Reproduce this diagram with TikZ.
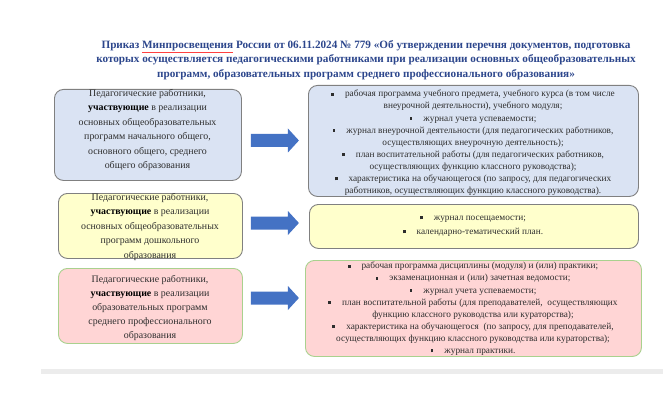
\documentclass[tikz,border=0pt]{standalone}
\usepackage{fontspec}
\setmainfont{Liberation Serif}
\definecolor{titleblue}{RGB}{44,70,140}
\definecolor{bluefill}{RGB}{218,227,243}
\definecolor{yelfill}{RGB}{255,255,204}
\definecolor{pinkfill}{RGB}{255,213,213}
\definecolor{greenborder}{RGB}{169,209,142}
\definecolor{grayborder}{RGB}{128,128,128}
\definecolor{arrowblue}{RGB}{68,114,196}
\definecolor{txtcol}{RGB}{45,45,45}
\newcommand{\bul}{\raisebox{1.3pt}{\rule{2.8pt}{2.8pt}}\hspace{11pt}}
\newcommand{\uch}{\textbf{\color{black}участвующие}}
\begin{document}
\begin{tikzpicture}[x=1pt,y=-1pt,
  panel/.style={draw, rounded corners=9pt, line width=0.9pt, anchor=north west, inner sep=0pt},
  lefttext/.style={anchor=north, align=center, inner sep=0pt, text=txtcol, font=\fontsize{9.9}{14.5}\selectfont},
  righttext/.style={anchor=north, align=center, inner sep=0pt, text=txtcol, font=\fontsize{9.3}{12.1}\selectfont},
  bigarrow/.pic={\fill[arrowblue] (0,-6.5) -- (37,-6.5) -- (37,-12) -- (48,0) -- (37,12) -- (37,6.5) -- (0,6.5) -- cycle;}
]
\useasboundingbox (0,0) rectangle (663,414);

% title
\node[anchor=north, align=center, inner sep=0pt, text=titleblue,
      font=\bfseries\fontsize{11.2}{14.5}\selectfont] (title) at (366,40)
  {Приказ {\color{red!75}\underline{\color{titleblue}Минпросвещения}} России от 06.11.2024 № 779 «Об утверждении перечня документов, подготовка\\
   которых осуществляется педагогическими работниками при реализации основных общеобразовательных\\
   программ, образовательных программ среднего профессионального образования»};

% left panels
\node[panel, fill=bluefill, draw=grayborder, minimum width=187pt, minimum height=91pt] (L1) at (54,89) {};
\node[panel, fill=yelfill, draw=grayborder, minimum width=184pt, minimum height=65pt] (L2) at (58,193) {};
\node[panel, fill=pinkfill, draw=greenborder, minimum width=184pt, minimum height=75pt] (L3) at (58,268) {};

% right panels
\node[panel, fill=bluefill, draw=grayborder, minimum width=330pt, minimum height=111pt] (R1) at (308,85) {};
\node[panel, fill=yelfill, draw=grayborder, minimum width=329pt, minimum height=44pt] (R2) at (309,204) {};
\node[panel, fill=pinkfill, draw=greenborder, minimum width=336pt, minimum height=96pt] (R3) at (305,260) {};

% left texts
\node[lefttext] (L1t) at (147.5,89) {Педагогические работники,\\ \uch{} в реализации\\ основных общеобразовательных\\ программ начального общего,\\ основного общего, среднего\\ общего образования};
\node[lefttext] (L2t) at (150,193) {Педагогические работники,\\ \uch{} в реализации\\ основных общеобразовательных\\ программ дошкольного\\ образования};
\node[lefttext, font=\fontsize{9.9}{14}\selectfont] (L3t) at (150,275) {Педагогические работники,\\ \uch{} в реализации\\ образовательных программ\\ среднего профессионального\\ образования};

% right texts
\node[righttext] (R1t) at (473,90) {\bul рабочая программа учебного предмета, учебного курса (в том числе\\ внеурочной деятельности), учебного модуля;\\ \bul журнал учета успеваемости;\\ \bul журнал внеурочной деятельности (для педагогических работников,\\ осуществляющих внеурочную деятельность);\\ \bul план воспитательной работы (для педагогических работников,\\ осуществляющих функцию классного руководства);\\ \bul характеристика на обучающегося (по запросу, для педагогических\\ работников, осуществляющих функцию классного руководства).};
\node[righttext, font=\fontsize{9.3}{14}\selectfont] (R2t) at (473,216) {\bul журнал посещаемости;\\ \bul календарно-тематический план.};
\node[righttext] (R3t) at (473,262) {\bul рабочая программа дисциплины (модуля) и (или) практики;\\ \bul экзаменационная и (или) зачетная ведомости;\\ \bul журнал учета успеваемости;\\ \bul план воспитательной работы (для преподавателей,\ \ осуществляющих\\ функцию классного руководства или кураторства);\\ \bul характеристика на обучающегося\ \ (по запросу, для преподавателей,\\ осуществляющих функцию классного руководства или кураторства);\\ \bul журнал практики.};

% arrows
\coordinate (A1) at ([xshift=9pt]L1.east |- 0,140.5);
\coordinate (A2) at ([xshift=8pt]L2.east |- 0,223);
\coordinate (A3) at ([xshift=8pt]L3.east |- 0,298);
\pic at (A1) {bigarrow};
\pic at (A2) {bigarrow};
\pic at (A3) {bigarrow};

% bottom bar
\fill[gray!15] (41,369) rectangle (663,374);
\end{tikzpicture}
\end{document}
